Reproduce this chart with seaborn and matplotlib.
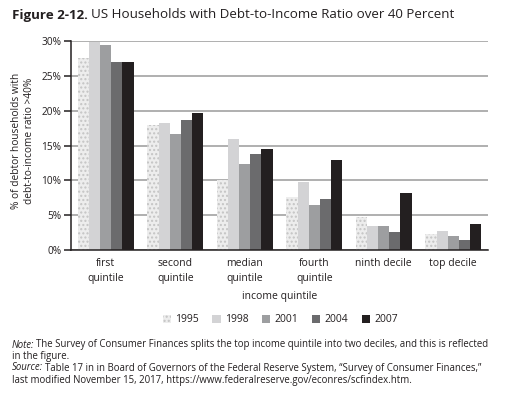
import matplotlib
matplotlib.use("Agg")
import matplotlib.pyplot as plt
from matplotlib.patches import Patch
import seaborn as sns
import pandas as pd

categories = ["first\nquintile", "second\nquintile", "median\nquintile",
              "fourth\nquintile", "ninth decile", "top decile"]
years = ["1995", "1998", "2001", "2004", "2007"]
v1995 = [27.5, 18.0, 10.0, 7.6, 4.7, 2.3]
v1998 = [29.8, 18.3, 16.0, 9.8, 3.45, 2.7]
v2001 = [29.4, 16.7, 12.4, 6.5, 3.45, 2.0]
v2004 = [27.0, 18.6, 13.85, 7.3, 2.6, 1.45]
v2007 = [27.0, 19.6, 14.5, 12.9, 8.2, 3.7]
yticks = [0, 5, 10, 15, 20, 25, 30]

series = [v1995, v1998, v2001, v2004, v2007]
rows = []
for y, vals in zip(years, series):
    for c, v in zip(categories, vals):
        rows.append({"cat": c, "year": y, "val": v})
df = pd.DataFrame(rows)

colors = ["#ededed", "#d3d3d5", "#9d9ea0", "#6b6b6d", "#231f20"]
txt = "#231f20"

sns.set_style("white")
plt.rcParams["font.family"] = ["Open Sans", "DejaVu Sans"]
plt.rcParams["hatch.linewidth"] = 1.0

fig = plt.figure(figsize=(5.14, 3.94), dpi=100)
ax = fig.add_axes([71/514, 1-250/394, (488-71)/514, (250-41)/394])

sns.barplot(data=df, x="cat", y="val", hue="year", palette=colors,
            order=categories, hue_order=years, width=0.8, ax=ax,
            linewidth=0, saturation=1, legend=False)

for p in ax.containers[0]:
    p.set_hatch("....")
    p.set_edgecolor("#c4c4c4")
    p.set_linewidth(0)

ax.set_xlim(-0.5, len(categories) - 0.5)
ax.set_ylim(0, 30)
ax.set_yticks(yticks)
ax.set_yticklabels([f"{t}%" for t in yticks], fontsize=7.3, color=txt)
ax.yaxis.grid(True, color="#9a9a9a", linewidth=1.1)
ax.set_axisbelow(True)
for s in ["top", "right"]:
    ax.spines[s].set_visible(False)
ax.spines["left"].set_color("#231f20")
ax.spines["bottom"].set_color("#231f20")
ax.spines["left"].set_linewidth(1.1)
ax.spines["bottom"].set_linewidth(1.1)

ax.set_xticks(range(len(categories)))
ax.set_xticklabels(categories, fontsize=7.5, color=txt, linespacing=1.45)
ax.tick_params(axis="x", which="major", length=0, pad=6)
ax.set_xticks([i - 0.5 for i in range(len(categories) + 1)], minor=True)
ax.tick_params(axis="x", which="minor", length=5, width=1.1, color="#231f20", direction="out")
ax.tick_params(axis="y", length=5, width=1.1, color="#231f20", direction="out", pad=2, left=True)

ax.set_xlabel("income quintile", fontsize=7.5, color=txt, labelpad=5)
ax.set_ylabel("% of debtor households with\ndebt-to-income ratio >40%", fontsize=7.3,
              color=txt, linespacing=1.25)
ax.yaxis.set_label_coords(-0.086, 0.52)

handles = []
for i, (y, c) in enumerate(zip(years, colors)):
    if i == 0:
        h = Patch(facecolor=c, edgecolor="#c4c4c4", hatch="....", linewidth=0, label=y)
    else:
        h = Patch(facecolor=c, edgecolor=c, linewidth=0, label=y)
    handles.append(h)
fig.legend(handles=handles, loc="center", bbox_to_anchor=(0.545, 1-320/394), ncol=5,
           frameon=False, fontsize=7.5, handlelength=0.8, handleheight=0.8,
           handletextpad=0.4, columnspacing=1.3, labelcolor=txt)

renderer = fig.canvas.get_renderer()


def inline(x_px, y_px, parts, size):
    x = x_px / 514
    for s, kw in parts:
        t = fig.text(x, 1 - y_px / 394, s, fontsize=size, color=txt, va="center", **kw)
        bb = t.get_window_extent(renderer=renderer)
        x = bb.x1 / 514 + (size * 0.28) / 514


inline(12, 15, [("Figure 2-12.", {"fontweight": "bold"}),
                ("US Households with Debt-to-Income Ratio over 40 Percent", {})], 9.6)

ns = 6.9
inline(12, 345, [("Note:", {"style": "italic"}),
                 ("The Survey of Consumer Finances splits the top income quintile into two deciles, and this is reflected", {})], ns)
inline(12, 356, [("in the figure.", {})], ns)
inline(12, 368, [("Source:", {"style": "italic"}),
                 ("Table 17 in in Board of Governors of the Federal Reserve System, \u201cSurvey of Consumer Finances,\u201d", {})], ns)
inline(12, 380, [("last modified November 15, 2017, https://www.federalreserve.gov/econres/scfindex.htm.", {})], ns)

fig.savefig("out.png", dpi=100)
